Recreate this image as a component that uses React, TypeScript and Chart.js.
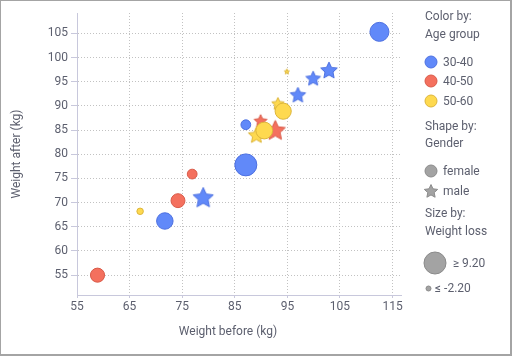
import React, { useEffect, useRef } from 'react';
import { Chart, registerables } from 'chart.js';

Chart.register(...registerables);

// ---- Data ----
const weightBefore = [112.5, 87.1, 87.1, 71.7, 74.2, 76.9, 67.0, 58.9, 94.2, 90.6, 79.0, 97.0, 99.9, 102.9, 94.9, 93.2, 89.9, 92.7, 89.1];
const weightAfter = [105.3, 86.1, 77.8, 66.2, 70.4, 75.9, 68.2, 55.0, 88.9, 84.9, 71.1, 92.3, 95.7, 97.4, 97.1, 90.5, 86.9, 85.0, 84.0];
const ageGroup = ['30-40', '30-40', '30-40', '30-40', '40-50', '40-50', '50-60', '40-50', '50-60', '50-60', '30-40', '30-40', '30-40', '30-40', '50-60', '50-60', '40-50', '40-50', '50-60'];
const gender = ['female', 'female', 'female', 'female', 'female', 'female', 'female', 'female', 'female', 'female', 'male', 'male', 'male', 'male', 'male', 'male', 'male', 'male', 'male'];

const ageGroups = ['30-40', '40-50', '50-60'];
const genders = ['female', 'male'];
const xTicks = [55, 65, 75, 85, 95, 105, 115];
const yTicks = [55, 60, 65, 70, 75, 80, 85, 90, 95, 100, 105];
const sizeLegendLabels = ['≥ 9.20', '≤ -2.20'];
const lossMax = 9.2;
const lossMin = -2.2;

// ---- Styles ----
const FONT = 'Roboto, "Liberation Sans", Arial, sans-serif';
const TEXT = '#5c5f6e';
const AXIS = '#c8c8dc';
const GRID = '#c2c2c2';
const fillColor: Record<string, string> = { '30-40': '#6189f9', '40-50': '#f4705e', '50-60': '#fed94f' };
const strokeColor: Record<string, string> = { '30-40': '#4d70e0', '40-50': '#d85a48', '50-60': '#dcb53a' };
const GREY = '#a3a3a3';
const GREY_STROKE = '#8a8a8a';

function radiusFor(loss: number) {
  const t = Math.max(0, Math.min(1, (loss - lossMin) / (lossMax - lossMin)));
  return 2.5 + t * 8.5;
}

function starPath(ctx: CanvasRenderingContext2D, cx: number, cy: number, R: number) {
  ctx.beginPath();
  for (let i = 0; i < 10; i++) {
    const r = i % 2 === 0 ? R : R * 0.48;
    const a = -Math.PI / 2 + (i * Math.PI) / 5;
    const px = cx + r * Math.cos(a);
    const py = cy + r * Math.sin(a);
    if (i === 0) ctx.moveTo(px, py);
    else ctx.lineTo(px, py);
  }
  ctx.closePath();
}

function makeStar(R: number, fill: string, stroke: string): HTMLCanvasElement {
  const size = Math.ceil(R * 2 + 4);
  const c = document.createElement('canvas');
  c.width = size;
  c.height = size;
  const ctx = c.getContext('2d')!;
  starPath(ctx, size / 2, size / 2 + R * 0.08, R);
  ctx.fillStyle = fill;
  ctx.fill();
  ctx.strokeStyle = stroke;
  ctx.lineWidth = 1;
  ctx.stroke();
  return c;
}

function StarIcon({ cx, cy, R, fill, stroke }: { cx: number; cy: number; R: number; fill: string; stroke: string }) {
  const pts: string[] = [];
  for (let i = 0; i < 10; i++) {
    const r = i % 2 === 0 ? R : R * 0.48;
    const a = -Math.PI / 2 + (i * Math.PI) / 5;
    pts.push(`${(R + 1 + r * Math.cos(a)).toFixed(2)},${(R + 1 + R * 0.08 + r * Math.sin(a)).toFixed(2)}`);
  }
  const s = R * 2 + 2;
  return (
    <svg width={s} height={s} style={{ position: 'absolute', left: cx - s / 2, top: cy - s / 2 }}>
      <polygon points={pts.join(' ')} fill={fill} stroke={stroke} strokeWidth={1} />
    </svg>
  );
}

function Dot({ cx, cy, r, fill, stroke }: { cx: number; cy: number; r: number; fill: string; stroke: string }) {
  const s = r * 2 + 2;
  return (
    <svg width={s} height={s} style={{ position: 'absolute', left: cx - s / 2, top: cy - s / 2 }}>
      <circle cx={s / 2} cy={s / 2} r={r} fill={fill} stroke={stroke} strokeWidth={1} />
    </svg>
  );
}

function Label({ x, cy, text }: { x: number; cy: number; text: string }) {
  return (
    <div style={{ position: 'absolute', left: x, top: cy - 7, lineHeight: '14px', fontSize: 12, fontFamily: FONT, color: TEXT, whiteSpace: 'nowrap' }}>
      {text}
    </div>
  );
}

export default function App() {
  const canvasRef = useRef<HTMLCanvasElement | null>(null);

  useEffect(() => {
    const canvas = canvasRef.current;
    if (!canvas) return;

    const datasets = genders.map((g) => {
      const idx = weightBefore.map((_, i) => i).filter((i) => gender[i] === g);
      const data = idx.map((i) => ({ x: weightBefore[i], y: weightAfter[i], loss: weightBefore[i] - weightAfter[i], age: ageGroup[i] }));
      const isStar = g === 'male';
      return {
        label: g,
        data,
        backgroundColor: data.map((d) => fillColor[d.age]),
        borderColor: data.map((d) => strokeColor[d.age]),
        borderWidth: 1,
        pointRadius: data.map((d) => radiusFor(d.loss)),
        pointStyle: isStar
          ? data.map((d) => makeStar(radiusFor(d.loss) * 1.06, fillColor[d.age], strokeColor[d.age]))
          : 'circle',
      };
    });

    const chart = new Chart(canvas, {
      type: 'scatter',
      data: { datasets: datasets as any },
      options: {
        animation: false,
        responsive: false,
        devicePixelRatio: 1,
        layout: { padding: { top: 13, left: 0, right: 0, bottom: 0 } },
        plugins: {
          legend: { display: false },
          tooltip: { enabled: false },
          title: {
            display: true,
            position: 'bottom',
            text: 'Weight before (kg)',
            color: TEXT,
            font: { family: FONT, size: 12, weight: 'normal' },
            padding: { top: 9.8, bottom: 16.8 },
          },
        },
        scales: {
          x: {
            type: 'linear',
            min: 55,
            max: 116.6,
            afterBuildTicks: (s: any) => {
              s.ticks = xTicks.map((v) => ({ value: v }));
            },
            afterFit: (s: any) => {
              s.height = 20;
            },
            grid: { color: GRID, tickColor: AXIS, tickLength: 3, drawTicks: true },
            border: { color: AXIS, width: 1, dash: [1, 2] },
            ticks: { color: TEXT, font: { family: FONT, size: 12 }, padding: 2, maxRotation: 0, autoSkip: false },
          },
          y: {
            type: 'linear',
            min: 50.9,
            max: 109.2,
            afterBuildTicks: (s: any) => {
              s.ticks = yTicks.map((v) => ({ value: v }));
            },
            afterFit: (s: any) => {
              s.width = 77;
            },
            grid: { color: GRID, tickColor: AXIS, tickLength: 6, drawTicks: true },
            border: { color: AXIS, width: 1, dash: [1, 2] },
            ticks: { color: TEXT, font: { family: FONT, size: 12 }, padding: 3, autoSkip: false },
            title: {
              display: true,
              text: 'Weight after (kg)',
              color: TEXT,
              font: { family: FONT, size: 12 },
              padding: { top: 9.8, bottom: 0 },
            },
          },
          yRight: {
            type: 'linear',
            position: 'right',
            display: true,
            grid: { display: false, drawTicks: false },
            ticks: { display: false },
            border: { display: false },
            afterFit: (s: any) => {
              s.width = 55;
            },
          },
        },
      } as any,
    });

    return () => chart.destroy();
  }, []);

  const colorRowsY = [62, 81, 100.5];
  const shapeRowsY = [171, 190.7];

  return (
    <div style={{ position: 'relative', width: 512, height: 356, overflow: 'hidden', background: '#fff' }}>
      <style>{`body{margin:0;}`}</style>
      <canvas ref={canvasRef} width={456} height={356} style={{ position: 'absolute', left: 0, top: 0 }} />
      <Label x={425} cy={16} text="Color by:" />
      <Label x={425} cy={34} text="Age group" />
      {ageGroups.map((a, i) => (
        <React.Fragment key={a}>
          <Dot cx={431} cy={colorRowsY[i]} r={6} fill={fillColor[a]} stroke={strokeColor[a]} />
          <Label x={443} cy={colorRowsY[i]} text={a} />
        </React.Fragment>
      ))}
      <Label x={425} cy={126} text="Shape by:" />
      <Label x={425} cy={143} text="Gender" />
      <Dot cx={431} cy={shapeRowsY[0]} r={6} fill={GREY} stroke={GREY_STROKE} />
      <Label x={443} cy={shapeRowsY[0]} text={genders[0]} />
      <StarIcon cx={431} cy={shapeRowsY[1]} R={7} fill={GREY} stroke={GREY_STROKE} />
      <Label x={443} cy={shapeRowsY[1]} text={genders[1]} />
      <Label x={425} cy={213.3} text="Size by:" />
      <Label x={425} cy={231} text="Weight loss" />
      <Dot cx={435} cy={263.3} r={11} fill={GREY} stroke={GREY_STROKE} />
      <Label x={452.7} cy={263.3} text={sizeLegendLabels[0]} />
      <Dot cx={428.3} cy={288.3} r={2.5} fill={GREY} stroke={GREY_STROKE} />
      <Label x={435} cy={288.3} text={sizeLegendLabels[1]} />
      <div
        style={{
          position: 'absolute',
          inset: 0,
          boxSizing: 'border-box',
          borderStyle: 'solid',
          borderColor: '#a4a4a4',
          borderWidth: '1px 2px 2px 1px',
          pointerEvents: 'none',
        }}
      />
    </div>
  );
}
